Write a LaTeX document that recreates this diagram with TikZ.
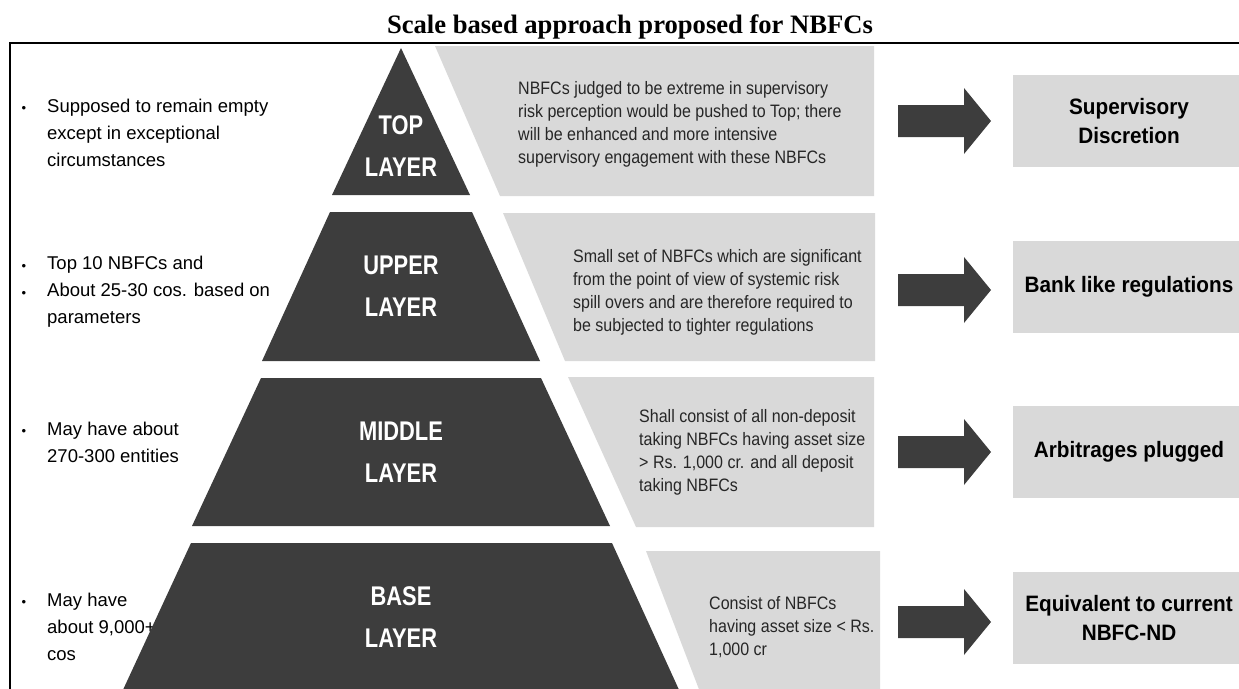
\documentclass[tikz,border=0pt]{standalone}
\usepackage{fontspec}
\setmainfont{Liberation Sans}
\newfontfamily\titlefont{Liberation Serif}
\newfontfamily\layerfont{Liberation Sans}[FakeStretch=0.81]
\newfontfamily\notefont{Liberation Sans}[FakeStretch=0.89]
\newfontfamily\resultfont{Liberation Sans}[FakeStretch=0.93]
\usepackage{xcolor}
\definecolor{layergray}{HTML}{3D3D3D}
\definecolor{notegray}{HTML}{D9D9D9}

\begin{document}
\begin{tikzpicture}[x=1pt,y=-1pt,
  layer/.style={fill=layergray},
  note/.style={fill=notegray},
  layername/.style={text=white,align=center,inner sep=0pt,font=\layerfont\bfseries\fontsize{27}{42}\selectfont},
  sidetext/.style={anchor=west,align=left,inner sep=0pt,font=\fontsize{18.5}{27}\selectfont},
  dot/.style={inner sep=0pt,font=\fontsize{13}{13}\selectfont},
  notetext/.style={anchor=west,align=left,inner sep=0pt,text=black!85,font=\notefont\fontsize{18}{23}\selectfont},
  resultbox/.style={fill=notegray,minimum width=232pt,minimum height=92pt,align=center,inner sep=0pt,font=\resultfont\bfseries\fontsize{22.3}{29}\selectfont}]
  \useasboundingbox (0,0) rectangle (1239,688);
  % Title and frame
  \node[anchor=base,font=\titlefont\bfseries\fontsize{26.6}{30}\selectfont] (title) at (630,33) {Scale based approach proposed for NBFCs};
  \draw[line width=1.3pt] (10,700) -- (10,43) -- (1250,43);
  % Left remarks (drawn first, the base layer overlaps them)
  \node[sidetext] (topside) at (47,133) {Supposed to remain empty\\except in exceptional\\circumstances};
  \node[dot] at (24,109) {\textbullet};
  \node[sidetext] (upperside) at (47,292) {Top 10 NBFCs and\\About 25-30 cos. based on\\parameters};
  \node[dot] at (24,267) {\textbullet};
  \node[dot] at (24,294) {\textbullet};
  \node[sidetext] (middleside) at (47,442) {May have about\\270-300 entities};
  \node[dot] at (24,432) {\textbullet};
  \node[sidetext] (baseside) at (47,627) {May have\\about 9,000+\\cos};
  \node[dot] at (24,603) {\textbullet};
  % Pyramid: top, upper, middle and base layer
  \fill[layer] (401,48) -- (470,195) -- (332,195) -- cycle;
  \fill[layer] (330,212) -- (472,212) -- (540,361) -- (262,361) -- cycle;
  \fill[layer] (261,378) -- (541,378) -- (610,526) -- (192,526) -- cycle;
  \fill[layer] (191,543) -- (612,543) -- (680,692) -- (122,692) -- cycle;
  \node[layername] (toplabel) at (401,146) {TOP\\LAYER};
  \node[layername] (upperlabel) at (401,286.5) {UPPER\\LAYER};
  \node[layername] (middlelabel) at (401,452.5) {MIDDLE\\LAYER};
  \node[layername] (baselabel) at (401,617) {BASE\\LAYER};
  % Grey notes beside each layer
  \fill[note] (435,46) -- (874,46) -- (874,196) -- (500,196) -- cycle;
  \fill[note] (503,213) -- (875,213) -- (875,361) -- (565,361) -- cycle;
  \fill[note] (568,377) -- (874,377) -- (874,527) -- (636,527) -- cycle;
  \fill[note] (646,551) -- (880,551) -- (880,692) -- (700,692) -- cycle;
  \node[notetext] (topnote) at (518,124) {NBFCs judged to be extreme in supervisory\\risk perception would be pushed to Top; there\\will be enhanced and more intensive\\supervisory engagement with these NBFCs};
  \node[notetext] (uppernote) at (573,292) {Small set of NBFCs which are significant\\from the point of view of systemic risk\\spill overs and are therefore required to\\be subjected to tighter regulations};
  \node[notetext] (middlenote) at (639,452) {Shall consist of all non-deposit\\taking NBFCs having asset size\\> Rs. 1,000 cr. and all deposit\\taking NBFCs};
  \node[notetext] (basenote) at (709,627.5) {Consist of NBFCs\\having asset size < Rs.\\1,000 cr};
  % Block arrows
  \foreach \y in {121,290,452,622}
    \fill[layer] (898,\y-16) -- (964,\y-16) -- (964,\y-33) -- (991,\y)
      -- (964,\y+33) -- (964,\y+16) -- (898,\y+16) -- cycle;
  % Outcomes
  \node[resultbox] (topresult) at (1129,121) {Supervisory\\Discretion};
  \node[resultbox] (upperresult) at (1129,286.5) {Bank like regulations};
  \node[resultbox] (middleresult) at (1129,452) {Arbitrages plugged};
  \node[resultbox] (baseresult) at (1129,618) {Equivalent to current\\NBFC-ND};
\end{tikzpicture}
\end{document}
